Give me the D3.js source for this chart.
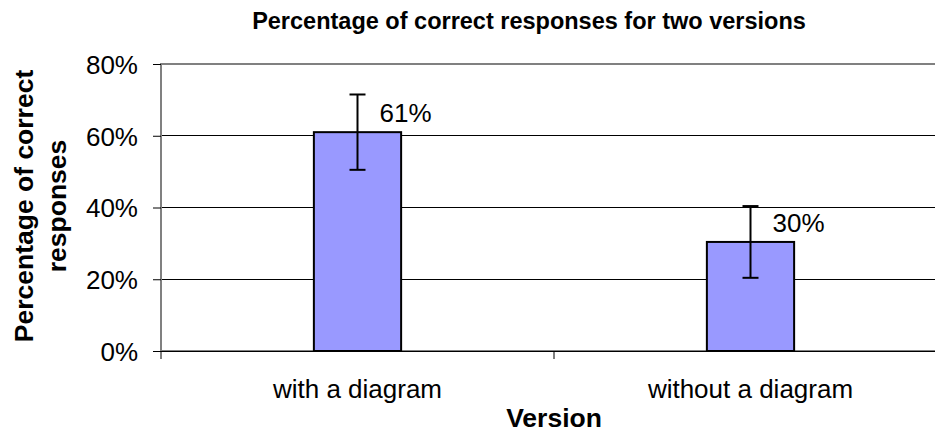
<!DOCTYPE html>
<html>
<head>
<meta charset="utf-8">
<script src="https://cdn.jsdelivr.net/npm/d3@7"></script>
<style>
  html, body { margin: 0; padding: 0; background: #fff; }
  svg { display: block; font-family: "Liberation Sans", Arial, sans-serif; }
</style>
</head>
<body>
<svg id="chart" width="935" height="434"></svg>
<script>
// ---- data ----
const categories = ["with a diagram", "without a diagram"];
const values = [61, 30.4];
const errors = [10.5, 10];
const valueLabels = ["61%", "30%"];
const yTicks = [0, 20, 40, 60, 80];
const titleText = "Percentage of correct responses for two versions";
const xTitle = "Version";
const yTitleLines = ["Percentage of correct", "responses"];

// ---- layout ----
const svg = d3.select("#chart");
const plot = { left: 161, right: 947, top: 64, bottom: 351 };

const x = d3.scaleBand().domain(categories).range([plot.left, plot.right]).padding(0);
const y = d3.scaleLinear().domain([0, 80]).range([plot.bottom, plot.top]);
const barW = x.bandwidth() * 0.222;

// gridlines
svg.append("g").selectAll("line")
  .data(yTicks.filter(d => d > 0 && d < 80))
  .join("line")
  .attr("x1", plot.left).attr("x2", plot.right)
  .attr("y1", d => y(d)).attr("y2", d => y(d))
  .attr("stroke", "#000").attr("stroke-width", 1)
  .attr("shape-rendering", "crispEdges");

// plot area border (gray)
svg.append("rect")
  .attr("x", plot.left).attr("y", y(80))
  .attr("width", plot.right - plot.left).attr("height", y(0) - y(80))
  .attr("fill", "none").attr("stroke", "#808080").attr("stroke-width", 2);

// bars
svg.append("g").selectAll("rect")
  .data(categories)
  .join("rect")
  .attr("x", (d) => x(d) + x.bandwidth() / 2 - barW / 2)
  .attr("y", (d, i) => y(values[i]))
  .attr("width", barW)
  .attr("height", (d, i) => y(0) - y(values[i]))
  .attr("fill", "#9999FF").attr("stroke", "#000").attr("stroke-width", 2);

// error bars
const eb = svg.append("g").attr("stroke", "#000").attr("stroke-width", 2);
categories.forEach((c, i) => {
  const cx = x(c) + x.bandwidth() / 2;
  const yt = y(values[i] + errors[i]);
  const yb = y(values[i] - errors[i]);
  eb.append("line").attr("x1", cx).attr("x2", cx).attr("y1", yt).attr("y2", yb);
  eb.append("line").attr("x1", cx - 8).attr("x2", cx + 8).attr("y1", yt).attr("y2", yt);
  eb.append("line").attr("x1", cx - 8).attr("x2", cx + 8).attr("y1", yb).attr("y2", yb);
});

// value labels
svg.append("g").selectAll("text")
  .data(categories)
  .join("text")
  .attr("x", d => x(d) + x.bandwidth() / 2 + 22)
  .attr("y", (d, i) => y(values[i]) - 10)
  .attr("font-size", 26)
  .attr("fill", "#000")
  .text((d, i) => valueLabels[i]);

// x axis line
svg.append("line")
  .attr("x1", plot.left).attr("x2", plot.right)
  .attr("y1", plot.bottom + 0.5).attr("y2", plot.bottom + 0.5)
  .attr("stroke", "#000").attr("stroke-width", 1);

// x tick marks at band edges
const edges = categories.map(c => x(c)).concat([x(categories[categories.length - 1]) + x.bandwidth()]);
svg.append("g").selectAll("line")
  .data(edges)
  .join("line")
  .attr("x1", d => d).attr("x2", d => d)
  .attr("y1", plot.bottom).attr("y2", plot.bottom + 8)
  .attr("stroke", "#000").attr("stroke-width", 1);

// x category labels
svg.append("g").selectAll("text")
  .data(categories)
  .join("text")
  .attr("x", d => x(d) + x.bandwidth() / 2)
  .attr("y", 398)
  .attr("text-anchor", "middle")
  .attr("font-size", 26)
  .text(d => d);

// y axis
const yAxis = d3.axisLeft(y).tickValues(yTicks).tickSize(8).tickPadding(15).tickFormat(d => d + "%");
const yg = svg.append("g").attr("transform", `translate(${plot.left},0)`).call(yAxis);
yg.select(".domain").remove();
yg.selectAll(".tick line").attr("stroke", "#000");
yg.selectAll(".tick text")
  .attr("font-size", 26)
  .attr("font-family", "Liberation Sans, Arial, sans-serif")
  .attr("fill", "#000")
  .attr("dy", "0.36em");

// title
svg.append("text")
  .attr("x", 529).attr("y", 29)
  .attr("text-anchor", "middle")
  .attr("font-size", 23.5).attr("font-weight", "bold")
  .text(titleText);

// x title
svg.append("text")
  .attr("x", (plot.left + plot.right) / 2).attr("y", 427)
  .attr("text-anchor", "middle")
  .attr("font-size", 26.5).attr("font-weight", "bold")
  .text(xTitle);

// y title
const yt = svg.append("text")
  .attr("transform", `translate(0,206) rotate(-90)`)
  .attr("text-anchor", "middle")
  .attr("font-size", 26.5).attr("font-weight", "bold");
yt.selectAll("tspan")
  .data(yTitleLines)
  .join("tspan")
  .attr("x", 0)
  .attr("y", (d, i) => 33 + i * 33)
  .text(d => d);
</script>
</body>
</html>
